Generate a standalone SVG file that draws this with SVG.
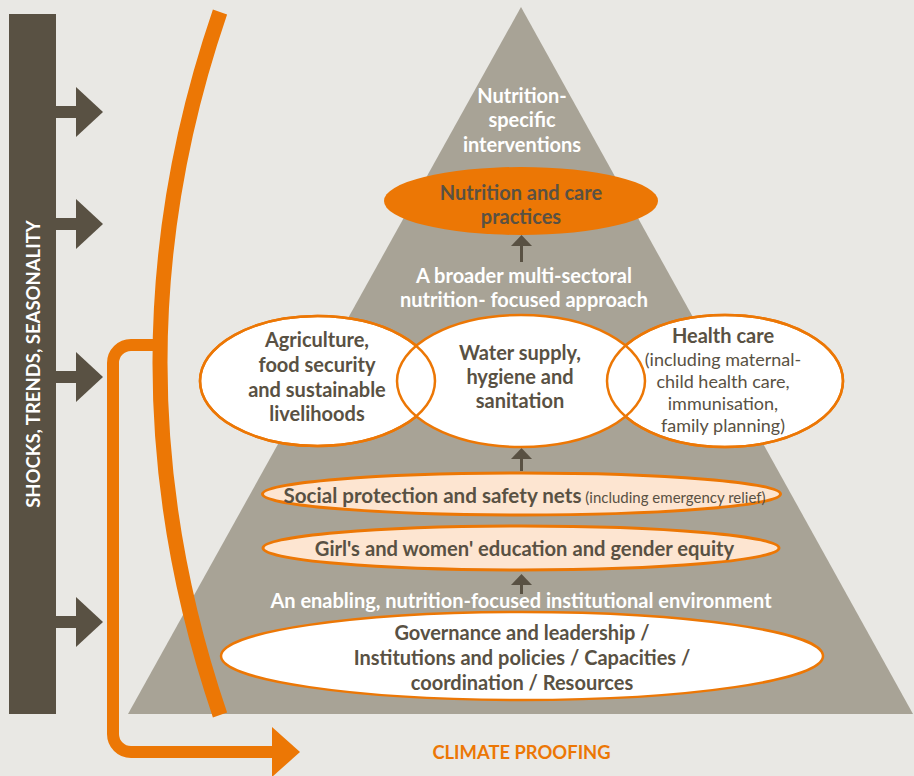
<svg xmlns="http://www.w3.org/2000/svg" width="914" height="776" viewBox="0 0 914 776">
<style>
  .t { font-family: Lato, "Open Sans", "Liberation Sans", sans-serif; text-anchor: middle; }
  .b { font-weight: bold; }
  .dark { fill: #595143; }
  .white { fill: #ffffff; }
  .node { fill: #ffffff; stroke: #ec7705; stroke-width: 2.5; }
  .band { fill: #fde5d1; stroke: #ec7705; stroke-width: 3; }
  .outline { fill: none; stroke: #ec7705; stroke-width: 2.5; }
  .orange { fill: none; stroke: #ec7705; }
  .up { stroke: #595143; stroke-width: 3; fill: none; marker-end: url(#head); }
</style>
<defs>
  <marker id="head" viewBox="0 -11 11 22" refX="0" refY="0" markerWidth="11" markerHeight="22" markerUnits="userSpaceOnUse" orient="auto">
    <path d="M0,-10.5 L11,0 L0,10.5 Z" fill="#595143"/>
  </marker>
  <g id="shock">
    <rect x="55" y="-6" width="22" height="12" fill="#595143"/>
    <polygon points="76,-25 103,0 76,25" fill="#595143"/>
  </g>
</defs>
<rect width="914" height="776" fill="#e9e8e4"/>
<polygon id="pyramid" points="521,7 913,714 128,714" fill="#a8a396"/>

<g id="shocks">
  <rect x="9" y="14" width="47" height="700" fill="#595143"/>
  <use href="#shock" y="112"/>
  <use href="#shock" y="224"/>
  <use href="#shock" y="377"/>
  <use href="#shock" y="622"/>
  <text class="t b white" font-size="18.5" transform="translate(39.5 364) rotate(-90)">SHOCKS, TRENDS, SEASONALITY</text>
</g>

<g id="connectors">
  <path class="orange" stroke-width="15" d="M220,12 Q100,362 220,715"/>
  <path class="orange" stroke-width="12" d="M162,345 H131 A18,18 0 0 0 113,363 V734 A18,18 0 0 0 131,752 H274"/>
  <polygon points="272,727 300,752 272,777" fill="#ec7705"/>
  <path class="up" d="M521.5,262 V246"/>
  <path class="up" d="M521.5,471 V459"/>
  <path class="up" d="M521.5,594 V585"/>
</g>

<g id="top-label">
  <text class="t b white" font-size="20"><tspan x="522" y="103">Nutrition-</tspan><tspan x="522" y="127">specific</tspan><tspan x="522" y="152">interventions</tspan></text>
</g>

<g id="nutrition-care">
  <ellipse cx="521" cy="201" rx="137" ry="34" fill="#ec7705"/>
  <text class="t b dark" font-size="20"><tspan x="521" y="200">Nutrition and care</tspan><tspan x="521" y="224">practices</tspan></text>
</g>

<g id="broader-label">
  <text class="t b white" font-size="20"><tspan x="524" y="283">A broader multi-sectoral</tspan><tspan x="524" y="307">nutrition- focused approach</tspan></text>
</g>

<g id="agriculture">
  <ellipse class="node" cx="317.5" cy="381" rx="117.5" ry="65"/>
  <text class="t b dark" font-size="20"><tspan x="317" y="347">Agriculture,</tspan><tspan x="317" y="372">food security</tspan><tspan x="317" y="397">and sustainable</tspan><tspan x="317" y="421">livelihoods</tspan></text>
</g>

<g id="health">
  <ellipse class="node" cx="725" cy="381" rx="118" ry="66"/>
  <text class="t dark" font-size="18"><tspan class="b" x="723" y="343" font-size="20">Health care</tspan><tspan x="723" y="366">(including maternal-</tspan><tspan x="723" y="388">child health care,</tspan><tspan x="723" y="410">immunisation,</tspan><tspan x="723" y="432">family planning)</tspan></text>
</g>

<g id="water">
  <ellipse class="node" cx="521" cy="381" rx="124" ry="66"/>
  <text class="t b dark" font-size="20"><tspan x="520" y="360">Water supply,</tspan><tspan x="520" y="384">hygiene and</tspan><tspan x="520" y="408">sanitation</tspan></text>
</g>

<g id="outlines">
  <ellipse class="outline" cx="317.5" cy="381" rx="117.5" ry="65"/>
  <ellipse class="outline" cx="725" cy="381" rx="118" ry="66"/>
</g>

<g id="social">
  <ellipse class="band" cx="521.5" cy="494" rx="259" ry="21"/>
  <text class="t dark" x="524.5" y="503"><tspan class="b" font-size="20.6">Social protection and safety nets</tspan><tspan font-size="15"> (including emergency relief)</tspan></text>
</g>

<g id="education">
  <ellipse class="band" cx="521" cy="548" rx="258" ry="22"/>
  <text class="t b dark" font-size="20.2" x="524.5" y="556">Girl's and women' education and gender equity</text>
</g>

<g id="enabling-label">
  <text class="t b white" font-size="20" x="521" y="608">An enabling, nutrition-focused institutional environment</text>
</g>

<g id="governance">
  <ellipse class="node" cx="522" cy="656" rx="301" ry="44" stroke-width="3"/>
  <text class="t b dark" font-size="20"><tspan x="522" y="640">Governance and leadership /</tspan><tspan x="522" y="665">Institutions and policies / Capacities /</tspan><tspan x="522" y="690">coordination / Resources</tspan></text>
</g>

<g id="climate-label">
  <text class="t b" font-size="18.4" fill="#ec7705" x="521.5" y="759">CLIMATE PROOFING</text>
</g>
</svg>
